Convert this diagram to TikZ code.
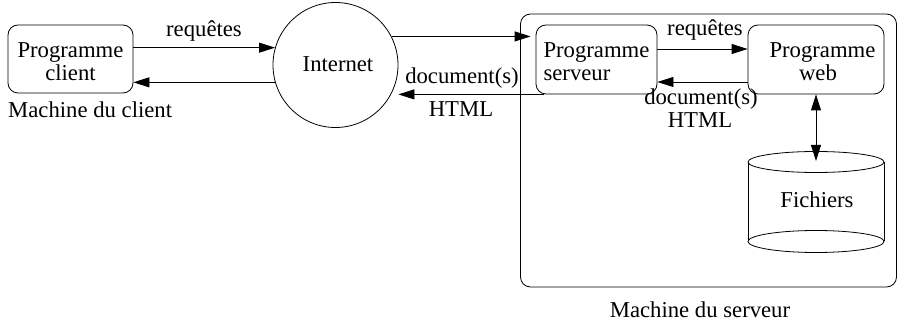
\documentclass[tikz,border=0pt]{standalone}
\usepackage{fontspec}
\setmainfont{Liberation Serif}
\usetikzlibrary{arrows.meta,calc}
\begin{document}
\begin{tikzpicture}[x=1pt,y=-1pt,
  every node/.style={font=\fontsize{22.7}{23}\selectfont, inner sep=0pt},
  prog/.style={draw, rounded corners=10pt, line width=0.8pt},
  tip/.tip={Triangle[length=16pt,width=10pt]},
  arr/.style={line width=0.8pt, -tip},
  lbl/.style={anchor=base}]
\useasboundingbox (0,0) rectangle (898,323);
% client side
\node[prog, minimum width=125pt, minimum height=68pt] (client) at (70.5,59) {};
\node[align=center] (clienttxt) at ([yshift=-3pt]client.center) {Programme\\client};
\node[anchor=base west] (mc) at (8,117.5) {Machine du client};
% internet
\node[draw, circle, minimum size=125pt, line width=0.8pt] (internet) at (335.5,65) {};
\node (internettxt) at (338,64) {Internet};
% server machine
\node[prog, minimum width=376pt, minimum height=273pt] (smachine) at (708.5,150.5) {};
\node[prog, minimum width=121pt, minimum height=69pt] (serveur) at (596.5,59.5) {};
\node[align=left] (serveurtxt) at ([yshift=-2pt]serveur.center) {Programme\\serveur};
\node[prog, minimum width=136pt, minimum height=69pt] (web) at (816,59.5) {};
\node[align=center] (webtxt) at ([xshift=2pt,yshift=-2pt]web.center) {\hspace*{9pt}Programme\\web};
\node[lbl] (ms) at (700,317.5) {Machine du serveur};
% cylinder
\draw[line width=0.8pt] (816,162) ellipse [x radius=68, y radius=10.5];
\draw[line width=0.8pt] (748,162) -- (748,241.5);
\draw[line width=0.8pt] (884,162) -- (884,241.5);
\draw[line width=0.8pt] (816,241.5) ellipse [x radius=68, y radius=11];
\node (files) at (817,200) {Fichiers};
\coordinate (ftop) at (816,161);
% arrows client <-> internet
\draw[arr] (internet.164 -| client.east) -- (internet.164);
\draw[arr] (internet.196) -- (internet.196 -| client.east);
\node[lbl] (rq1) at (204,36.5) {requêtes};
% internet <-> serveur
\draw[arr, shorten >=5pt] (internet.27) -- (internet.27 -| serveur.west);
\coordinate (s4) at ($(serveur.south west)+(8,0)$);
\draw[arr] (s4) -- (internet.east |- s4);
\node[lbl] (doc1) at (462,84) {document(s)};
\node[lbl] (html1) at (461,117) {HTML};
% serveur <-> web
\draw[arr] ([yshift=10.5pt]serveur.east) -- ([yshift=10.5pt]web.west);
\draw[arr] ([yshift=-22.5pt]web.west) -- ([yshift=-22.5pt]serveur.east);
\node[lbl] (rq2) at (705,36) {requêtes};
\node[lbl] (doc2) at (701,104.5) {document(s)};
\node[lbl] (html2) at (700,128) {HTML};
% web <-> files
\draw[line width=0.8pt, tip-tip] (web.south) -- (ftop);
\end{tikzpicture}
\end{document}
